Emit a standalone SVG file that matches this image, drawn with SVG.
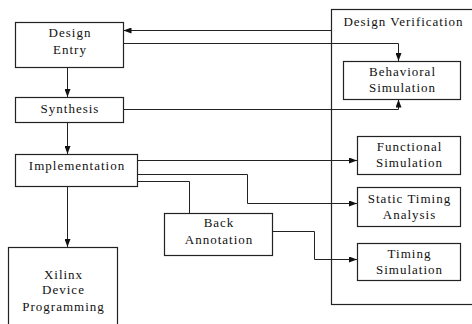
<svg xmlns="http://www.w3.org/2000/svg" width="472" height="324" viewBox="0 0 472 324">
<defs>
<style>
.box{fill:#fff;stroke:#222;stroke-width:1.2}
.frame{fill:none;stroke:#222;stroke-width:1.2}
.ln{fill:none;stroke:#222;stroke-width:1}
text{font-family:"Liberation Serif","Times New Roman",serif;font-size:13px;letter-spacing:1px;fill:#111;text-anchor:middle}
</style>
<marker id="ah" markerWidth="8" markerHeight="6" refX="8" refY="3" orient="auto" markerUnits="userSpaceOnUse">
<path d="M0,0 L8,3 L0,6 Z" fill="#111"/>
</marker>
</defs>
<rect width="472" height="324" fill="#fff"/>
<g id="design-verification">
<rect class="frame" x="331.5" y="9.5" width="150" height="295"/>
<text x="403.5" y="26">Design Verification</text>
</g>
<g id="connectors">
<path class="ln" d="M331,30.5 H123.5" marker-end="url(#ah)"/>
<path class="ln" d="M123,43.5 H398.5 V61" marker-end="url(#ah)"/>
<path class="ln" d="M123,109.5 H398.5 V99.5" marker-end="url(#ah)"/>
<path class="ln" d="M67.5,67 V97" marker-end="url(#ah)"/>
<path class="ln" d="M67.5,122 V154" marker-end="url(#ah)"/>
<path class="ln" d="M67.5,187 V247" marker-end="url(#ah)"/>
<path class="ln" d="M138,160.5 H357" marker-end="url(#ah)"/>
<path class="ln" d="M138,174.5 H247.5 V203.5 H357" marker-end="url(#ah)"/>
<path class="ln" d="M138,181.5 H189.5 V213"/>
<path class="ln" d="M272,231.5 H314.5 V259.5 H357" marker-end="url(#ah)"/>
</g>
<g id="design-entry">
<rect class="box" x="15.5" y="22.5" width="108" height="45"/>
<text x="70" y="37">Design</text>
<text x="70" y="54">Entry</text>
</g>
<g id="synthesis">
<rect class="box" x="15.5" y="97.5" width="108" height="25"/>
<text x="70" y="113">Synthesis</text>
</g>
<g id="implementation">
<rect class="box" x="15.5" y="154.5" width="122" height="32"/>
<text x="77" y="170">Implementation</text>
</g>
<g id="xilinx">
<rect class="box" x="8.5" y="247.5" width="109" height="80"/>
<text x="63.5" y="279">Xilinx</text>
<text x="63.5" y="294">Device</text>
<text x="63.5" y="311">Programming</text>
</g>
<g id="back-annotation">
<rect class="box" x="164.5" y="213.5" width="108" height="42"/>
<text x="219" y="227">Back</text>
<text x="219" y="244">Annotation</text>
</g>
<g id="behavioral-simulation">
<rect class="box" x="343.5" y="61.5" width="117" height="38"/>
<text x="402.5" y="76">Behavioral</text>
<text x="402.5" y="92">Simulation</text>
</g>
<g id="functional-simulation">
<rect class="box" x="357.5" y="136.5" width="103" height="38"/>
<text x="409.5" y="151">Functional</text>
<text x="409.5" y="167">Simulation</text>
</g>
<g id="static-timing">
<rect class="box" x="357.5" y="187.5" width="103" height="39"/>
<text x="409.5" y="203">Static Timing</text>
<text x="409.5" y="219">Analysis</text>
</g>
<g id="timing-simulation">
<rect class="box" x="357.5" y="243.5" width="103" height="37"/>
<text x="409.5" y="258">Timing</text>
<text x="409.5" y="274">Simulation</text>
</g>
</svg>
